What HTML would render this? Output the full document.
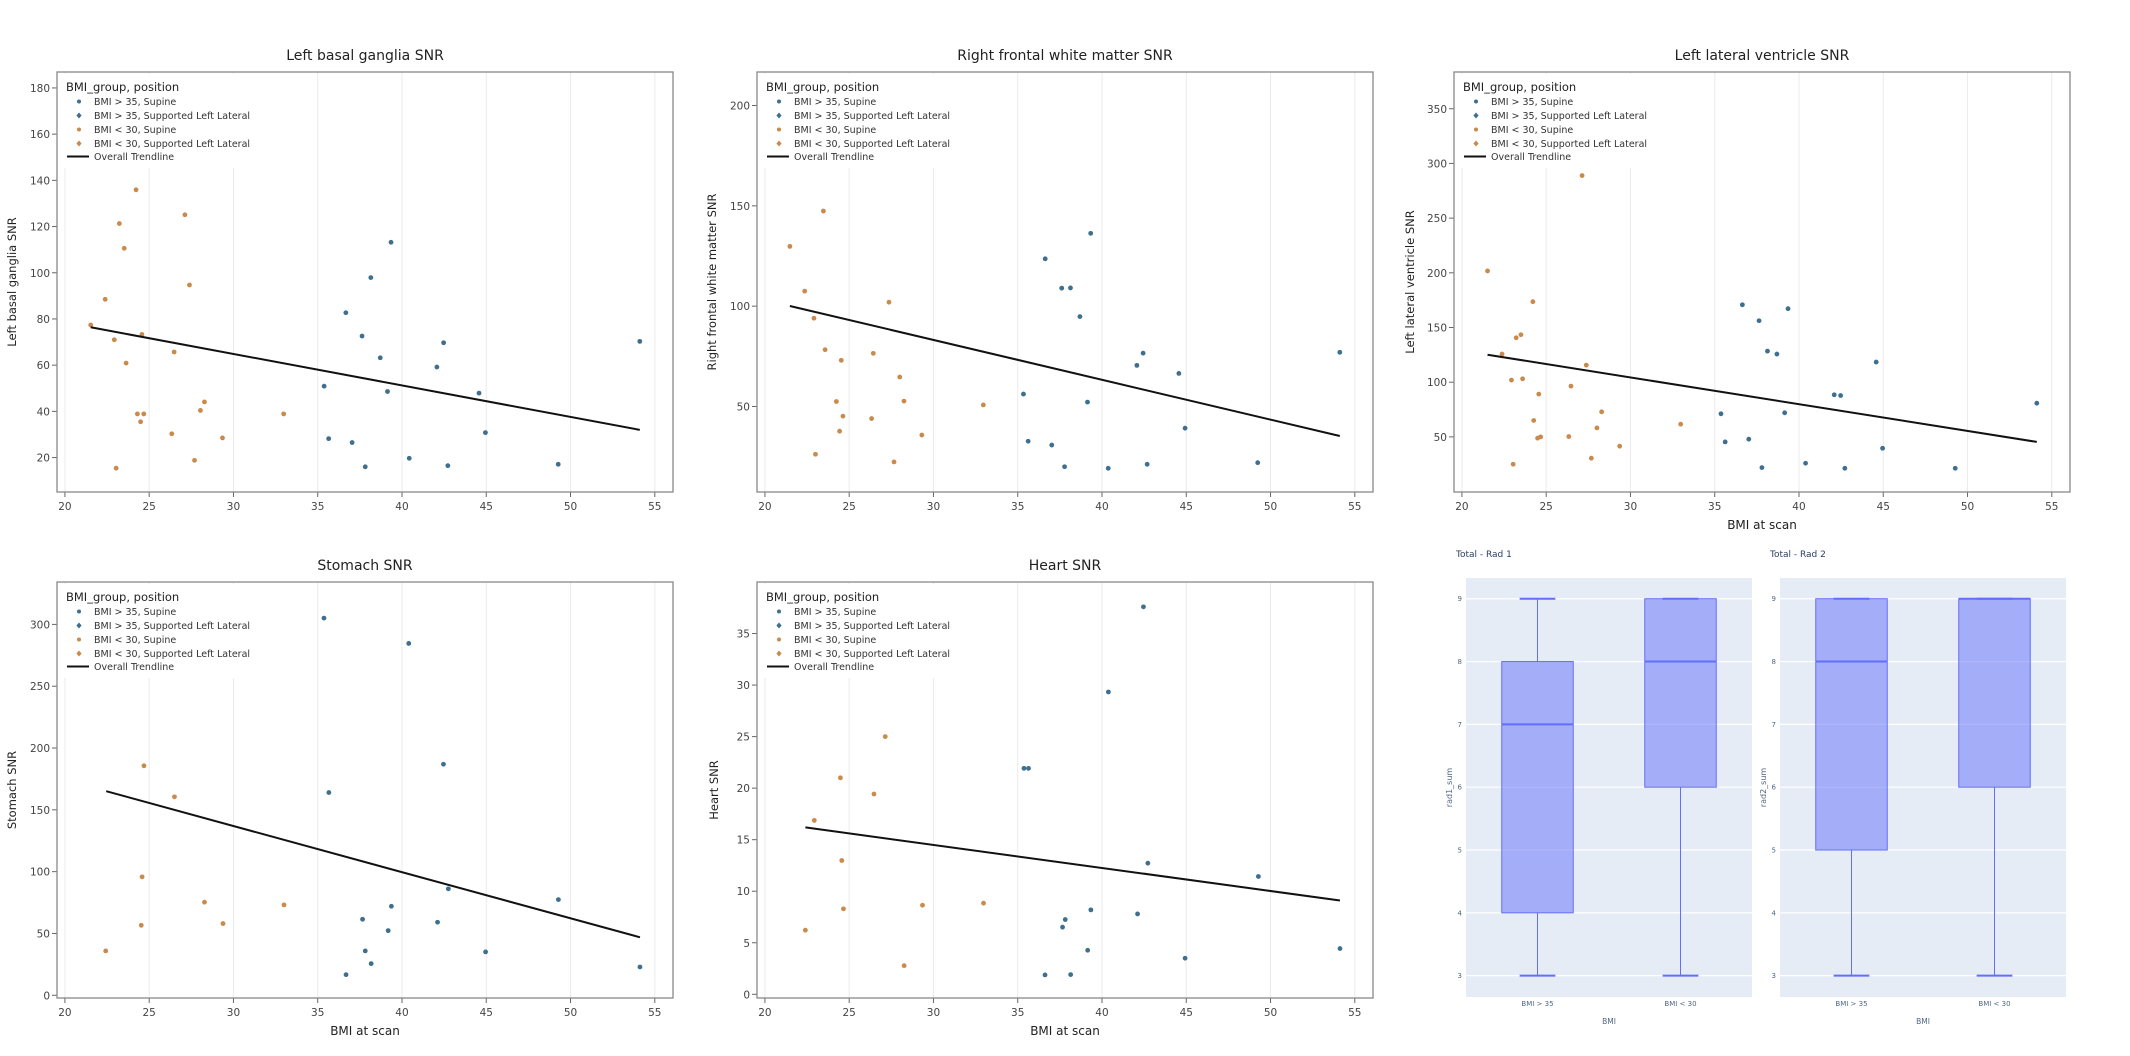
<!DOCTYPE html>
<html><head><meta charset="utf-8"><style>
html,body{margin:0;padding:0;background:#fff;}
svg{display:block;font-family:"DejaVu Sans","Liberation Sans",sans-serif;}
</style></head><body>
<svg id="chart" width="2130" height="1056" viewBox="0 0 2130 1056" xmlns="http://www.w3.org/2000/svg"></svg>
<script>
// ---- Panel 1: Left basal ganglia SNR
const p1OrangeX=[21.53,22.39,22.93,23.04,23.23,23.52,23.63,24.22,24.30,24.49,24.57,24.68,26.34,26.48,27.12,27.39,27.69,28.04,28.28,29.35,32.98];
const p1OrangeY=[77.4,88.5,71.0,15.4,121.3,110.6,60.9,135.9,38.9,35.5,73.3,38.9,30.3,65.7,125.1,94.7,18.8,40.4,44.1,28.5,38.9];
const p1BlueX=[35.38,35.65,36.67,37.04,37.63,37.82,38.15,38.71,39.14,39.35,40.43,42.07,42.47,42.72,44.57,44.95,49.27,54.11];
const p1BlueY=[50.9,28.2,82.7,26.5,72.6,16.0,97.9,63.2,48.6,113.2,19.7,59.2,69.7,16.5,47.9,30.8,17.1,70.3];
const p1TrendX=[21.53,54.11];
const p1TrendY=[76.4,32.0];
const p1YTicks=[20,40,60,80,100,120,140,160,180];
// ---- Panel 2: Right frontal white matter SNR
const p2OrangeX=[21.48,22.36,22.91,23.0,23.47,23.57,24.24,24.43,24.53,24.63,26.33,26.43,27.36,27.66,28.0,28.25,29.31,32.96];
const p2OrangeY=[129.8,107.5,94.0,26.2,147.4,78.3,52.5,37.7,73.0,45.2,44.0,76.5,102.0,22.4,64.7,52.7,35.8,50.8];
const p2BlueX=[35.34,35.62,36.63,37.02,37.61,37.78,38.13,38.69,39.14,39.33,40.37,42.07,42.44,42.68,44.56,44.93,49.24,54.11];
const p2BlueY=[56.2,32.7,123.6,30.8,109.0,20.0,109.1,94.8,52.2,136.3,19.2,70.5,76.6,21.2,66.5,39.2,22.0,77.0];
const p2TrendX=[21.48,54.11];
const p2TrendY=[100.1,35.3];
const p2YTicks=[50,100,150,200];
// ---- Panel 3: Left lateral ventricle SNR
const p3OrangeX=[21.52,22.38,22.94,23.04,23.22,23.50,23.60,24.21,24.26,24.49,24.56,24.67,26.34,26.47,27.13,27.38,27.68,28.01,28.29,29.36,32.98];
const p3OrangeY=[201.7,125.7,101.9,25.0,140.6,143.4,103.1,173.6,65.0,48.8,89.1,50.0,50.3,96.4,288.9,115.6,30.5,58.2,72.9,41.5,61.6];
const p3BlueX=[35.37,35.62,36.64,37.02,37.63,37.80,38.13,38.69,39.15,39.35,40.39,42.09,42.47,42.72,44.58,44.96,49.27,54.11];
const p3BlueY=[71.1,45.4,170.8,47.9,156.2,21.9,128.4,125.7,72.0,167.2,25.9,88.5,87.8,21.3,118.4,39.6,21.3,80.8];
const p3TrendX=[21.52,54.11];
const p3TrendY=[125.1,45.4];
const p3YTicks=[50,100,150,200,250,300,350];
// ---- Panel 4: Stomach SNR
const p4OrangeX=[22.42,24.53,24.58,24.69,26.50,28.28,29.38,33.0];
const p4OrangeY=[35.9,56.6,95.8,185.6,160.5,75.3,58.0,73.1];
const p4BlueX=[35.37,35.66,36.68,37.66,37.82,38.17,39.18,39.37,40.40,42.11,42.46,42.75,44.96,49.28,54.12];
const p4BlueY=[305.1,164.0,16.7,61.5,35.9,25.6,52.3,72.0,284.6,59.1,186.9,86.1,35.1,77.4,22.9];
const p4TrendX=[22.45,54.12];
const p4TrendY=[165.1,46.9];
const p4YTicks=[0,50,100,150,200,250,300];
// ---- Panel 5: Heart SNR
const p5OrangeX=[22.40,22.93,24.48,24.56,24.66,26.47,27.14,28.26,29.35,32.97];
const p5OrangeY=[6.22,16.87,21.0,12.98,8.29,19.43,25.0,2.78,8.64,8.84];
const p5BlueX=[35.37,35.64,36.62,37.66,37.82,38.14,39.15,39.34,40.38,42.11,42.46,42.72,44.93,49.28,54.12];
const p5BlueY=[21.92,21.92,1.88,6.51,7.25,1.91,4.27,8.19,29.33,7.80,37.59,12.72,3.50,11.43,4.44];
const p5TrendX=[22.40,54.12];
const p5TrendY=[16.19,9.10];
const p5YTicks=[0,5,10,15,20,25,30,35];
const xTicks=[20,25,30,35,40,45,50,55];
// ---- Box plots
const boxCategories=['BMI > 35','BMI < 30'];
const rad1Min=[3,3], rad1Q1=[4,6], rad1Median=[7,8], rad1Q3=[8,9], rad1Max=[9,9];
const rad2Min=[3,3], rad2Q1=[5,6], rad2Median=[8,9], rad2Q3=[9,9], rad2Max=[9,9];
const boxYTicks=[3,4,5,6,7,8,9];

const NS='http://www.w3.org/2000/svg';
const svg=document.getElementById('chart');
function mk(tag,attrs,parent,text){const e=document.createElementNS(NS,tag);for(const k in attrs)e.setAttribute(k,attrs[k]);if(text!==undefined)e.textContent=text;(parent||svg).appendChild(e);return e;}
const BLUE='#3e6f8e', ORANGE='#c98a4b';

function scatterPanel(id,F,xr,yr,yTicks,title,ylabel,ylabelX,xlabel,oX,oY,bX,bY,tX,tY){
  const g=mk('g',{});
  
  
  const sx=v=>F.l+(v-xr[0])/(xr[1]-xr[0])*(F.r-F.l);
  const sy=v=>F.b-(v-yr[0])/(yr[1]-yr[0])*(F.b-F.t);
  mk('rect',{x:F.l,y:F.t,width:F.r-F.l,height:F.b-F.t,fill:'#fff'},g);
  xTicks.forEach(v=>{
    const gl=mk('line',{x1:sx(v),x2:sx(v),y1:F.t,y2:F.b,stroke:'#ebebeb','stroke-width':1},g);
    
    
    mk('line',{x1:sx(v),x2:sx(v),y1:F.b,y2:F.b+5,stroke:'#666'},g);
    const t=mk('text',{x:sx(v),y:F.b+18,'text-anchor':'middle','font-size':10.5,fill:'#444'},g,String(v));
    
    
  });
  yTicks.forEach(v=>{
    mk('line',{x1:F.l-5,x2:F.l,y1:sy(v),y2:sy(v),stroke:'#666'},g);
    const t=mk('text',{x:F.l-7,y:sy(v)+4,'text-anchor':'end','font-size':10.5,fill:'#444'},g,String(v));
    
    
  });
  const lg=mk('g',{},g);
  
  
  mk('rect',{x:F.l+2,y:F.t+2,width:190,height:94,fill:'#fff'},lg);
  mk('text',{x:F.l+9,y:F.t+19,'font-size':11.5,fill:'#222'},lg,'BMI_group, position');
  const items=[['BMI > 35, Supine',BLUE],['BMI > 35, Supported Left Lateral',BLUE],['BMI < 30, Supine',ORANGE],['BMI < 30, Supported Left Lateral',ORANGE]];
  items.forEach((it,i)=>{
    const y=F.t+33+i*14;
    const e=mk('g',{},lg);
    
    
    if(i%2===0) mk('circle',{cx:F.l+22,cy:y-3.5,r:2,fill:it[1]},e);
    else mk('path',{d:`M${F.l+22} ${y-6.5}l2.6 3-2.6 3-2.6-3z`,fill:it[1]},e);
    mk('text',{x:F.l+37,y:y,'font-size':9.5,fill:'#333'},e,it[0]);
  });
  const te=mk('g',{},lg);
  
  
  mk('line',{x1:F.l+10,x2:F.l+32,y1:F.t+88-3.5,y2:F.t+88-3.5,stroke:'#111','stroke-width':2},te);
  mk('text',{x:F.l+37,y:F.t+88,'font-size':9.5,fill:'#333'},te,'Overall Trendline');
  oX.forEach((x,i)=>{const c=mk('circle',{cx:sx(x),cy:sy(oY[i]),r:2.4,fill:ORANGE},g);
    
    });
  bX.forEach((x,i)=>{const c=mk('circle',{cx:sx(x),cy:sy(bY[i]),r:2.4,fill:BLUE},g);
    
    });
  const tl=mk('line',{x1:sx(tX[0]),y1:sy(tY[0]),x2:sx(tX[1]),y2:sy(tY[1]),stroke:'#111','stroke-width':2},g);
  
  
  const fr=mk('rect',{x:F.l,y:F.t,width:F.r-F.l,height:F.b-F.t,fill:'none',stroke:'#888','stroke-width':1.3},g);
  
  
  const tt=mk('text',{x:(F.l+F.r)/2,y:F.t-12,'text-anchor':'middle','font-size':14,fill:'#222'},g,title);
  
  
  const yl=mk('text',{x:ylabelX,y:(F.t+F.b)/2,'text-anchor':'middle','font-size':11.5,fill:'#222',transform:`rotate(-90 ${ylabelX} ${(F.t+F.b)/2})`},g,ylabel);
  
  
  if(xlabel){const xl=mk('text',{x:(F.l+F.r)/2,y:F.b+37,'text-anchor':'middle','font-size':12,fill:'#222'},g,xlabel);
    
    }
}
const XR=[19.53,56.08];
scatterPanel('left-basal-ganglia',{l:57,t:72,r:673,b:492},XR,[5.1,186.9],p1YTicks,'Left basal ganglia SNR','Left basal ganglia SNR',16,null,p1OrangeX,p1OrangeY,p1BlueX,p1BlueY,p1TrendX,p1TrendY);
scatterPanel('right-frontal',{l:757,t:72,r:1373,b:492},XR,[7.4,216.7],p2YTicks,'Right frontal white matter SNR','Right frontal white matter SNR',716,null,p2OrangeX,p2OrangeY,p2BlueX,p2BlueY,p2TrendX,p2TrendY);
scatterPanel('left-lateral-ventricle',{l:1454,t:72,r:2070,b:492},XR,[-0.4,383.6],p3YTicks,'Left lateral ventricle SNR','Left lateral ventricle SNR',1414,'BMI at scan',p3OrangeX,p3OrangeY,p3BlueX,p3BlueY,p3TrendX,p3TrendY);
scatterPanel('stomach',{l:57,t:582,r:673,b:998},XR,[-2.2,334.3],p4YTicks,'Stomach SNR','Stomach SNR',16,'BMI at scan',p4OrangeX,p4OrangeY,p4BlueX,p4BlueY,p4TrendX,p4TrendY);
scatterPanel('heart',{l:757,t:582,r:1373,b:998},XR,[-0.36,40],p5YTicks,'Heart SNR','Heart SNR',718,'BMI at scan',p5OrangeX,p5OrangeY,p5BlueX,p5BlueY,p5TrendX,p5TrendY);

function boxPanel(id,F,title,ylabel,mins,q1s,meds,q3s,maxs){
  const g=mk('g',{});
  
  
  const yr=[2.66,9.33];
  const sy=v=>F.b-(v-yr[0])/(yr[1]-yr[0])*(F.b-F.t);
  const bw=(F.r-F.l)/boxCategories.length;
  const cx=i=>F.l+bw*(i+0.5);
  mk('rect',{x:F.l,y:F.t,width:F.r-F.l,height:F.b-F.t,fill:'#e5ecf6'},g);
  boxYTicks.forEach(v=>{
    mk('line',{x1:F.l,x2:F.r,y1:sy(v),y2:sy(v),stroke:'#fff','stroke-width':1.2},g);
    const t=mk('text',{x:F.l-4,y:sy(v)+2.5,'text-anchor':'end','font-size':7,fill:'#506784'},g,String(v));
    
    
  });
  boxCategories.forEach((c,i)=>{
    const x=cx(i), w=bw*0.5, cap=w*0.5;
    const bg=mk('g',{},g);
    
    
    mk('line',{x1:x,x2:x,y1:sy(maxs[i]),y2:sy(q3s[i]),stroke:'#636efa','stroke-width':1},bg);
    mk('line',{x1:x,x2:x,y1:sy(q1s[i]),y2:sy(mins[i]),stroke:'#636efa','stroke-width':1},bg);
    mk('line',{x1:x-cap/2,x2:x+cap/2,y1:sy(maxs[i]),y2:sy(maxs[i]),stroke:'#636efa','stroke-width':2},bg);
    mk('line',{x1:x-cap/2,x2:x+cap/2,y1:sy(mins[i]),y2:sy(mins[i]),stroke:'#636efa','stroke-width':2},bg);
    mk('rect',{x:x-w/2,y:sy(q3s[i]),width:w,height:sy(q1s[i])-sy(q3s[i]),fill:'rgba(99,110,250,0.5)',stroke:'#636efa','stroke-width':1},bg);
    mk('line',{x1:x-w/2,x2:x+w/2,y1:sy(meds[i]),y2:sy(meds[i]),stroke:'#636efa','stroke-width':2},bg);
    const t=mk('text',{x:x,y:F.b+9,'text-anchor':'middle','font-size':7,fill:'#506784'},g,c);
    
    
  });
  const tt=mk('text',{x:F.l-10,y:F.t-21,'font-size':9,fill:'#2a3f5f'},g,title);
  
  
  const yx=F.l-14, yc=(F.t+F.b)/2;
  const yl=mk('text',{x:yx,y:yc,'text-anchor':'middle','font-size':8,fill:'#506784',transform:`rotate(-90 ${yx} ${yc})`},g,ylabel);
  
  
  const xl=mk('text',{x:(F.l+F.r)/2,y:F.b+27,'text-anchor':'middle','font-size':7.5,fill:'#506784'},g,'BMI');
  
  
}
boxPanel('rad1',{l:1466,t:578,r:1752,b:997},'Total - Rad 1','rad1_sum',rad1Min,rad1Q1,rad1Median,rad1Q3,rad1Max);
boxPanel('rad2',{l:1780,t:578,r:2066,b:997},'Total - Rad 2','rad2_sum',rad2Min,rad2Q1,rad2Median,rad2Q3,rad2Max);
</script>
</body></html>
